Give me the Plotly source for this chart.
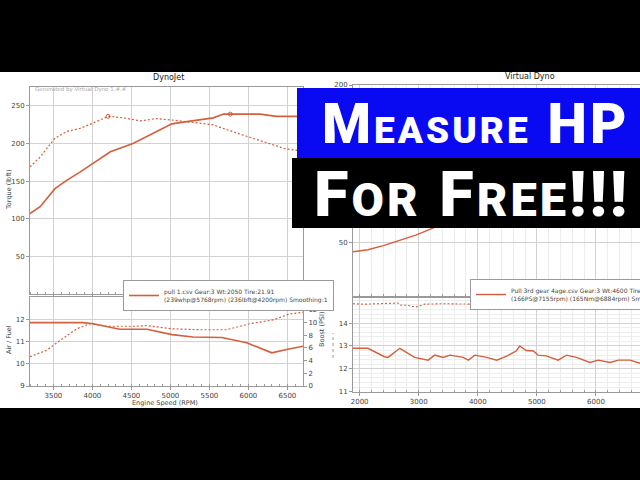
import plotly.graph_objects as go

# ---------------- data ----------------
# Left chart (DynoJet) - top panel
dj_rpm_power = [3200, 3330, 3520, 3670, 3840, 4010, 4230, 4520, 4820, 5020, 5210, 5550, 5680, 6150, 6360, 6700]
dj_power = [107, 116, 140, 151, 162, 174, 189, 200, 216, 226, 229, 234, 239, 239, 236, 236]
dj_rpm_torque = [3200, 3330, 3520, 3670, 3840, 4010, 4200, 4400, 4610, 4820, 5030, 5280, 5540, 5790, 6050, 6300, 6470, 6700]
dj_torque = [169, 182, 207, 216, 220, 227, 236, 234, 230, 233, 231, 228, 225, 216, 207, 198, 193, 190]
dj_peak_rpm = [5768, 4200]
dj_peak_val = [239, 236]

# Left chart - bottom panel
dj_rpm_afr = [3200, 3880, 4010, 4350, 4700, 5020, 5290, 5660, 5980, 6300, 6490, 6700]
dj_afr = [11.85, 11.85, 11.8, 11.55, 11.55, 11.31, 11.2, 11.18, 10.94, 10.49, 10.64, 10.79]
dj_rpm_boost = [3200, 3410, 3590, 3800, 3970, 4180, 4530, 4700, 5020, 5380, 5720, 6020, 6320, 6530, 6700]
dj_boost = [4.6, 5.6, 7.2, 9.0, 9.8, 9.4, 9.4, 9.5, 9.0, 8.85, 8.85, 9.8, 10.4, 11.35, 11.6]

# Right chart (Virtual Dyno) - top panel
vd_rpm_power = [1887, 2140, 2400, 2680, 2950, 3240, 3500]
vd_power = [41.7, 43.5, 47.5, 52.8, 57.5, 64, 72]

# Right chart - bottom panel
vd_rpm_afr = [1887, 2140, 2420, 2480, 2680, 2930, 3160, 3270, 3410, 3530, 3750, 3840, 3950, 4150, 4320,
              4490, 4650, 4710, 4820, 4940, 5020, 5160, 5360, 5500, 5670, 5900, 6040, 6240, 6380, 6580, 6746]
vd_afr = [12.9, 12.9, 12.53, 12.5, 12.9, 12.5, 12.38, 12.6, 12.5, 12.6, 12.5, 12.38, 12.6, 12.5, 12.38,
          12.56, 12.78, 13.0, 12.8, 12.78, 12.6, 12.57, 12.38, 12.6, 12.5, 12.28, 12.38, 12.28, 12.38, 12.38, 12.24]
vd_rpm_lambda = [1887, 2100, 2300, 2500, 2650, 2700, 2800, 2950, 3100, 3400, 3800, 4200, 4600, 5000, 5400, 5800, 6200, 6500, 6746]
vd_lambda = [14.85, 14.83, 14.85, 14.85, 14.88, 14.78, 14.78, 14.7, 14.83, 14.85, 14.83, 14.82, 14.85, 14.8, 14.78, 14.78, 14.75, 14.78, 14.82]

dj_x_ticks = [3500, 4000, 4500, 5000, 5500, 6000, 6500]
dj_power_ticks = [50, 100, 150, 200, 250]
dj_afr_ticks = [9, 10, 11, 12]
dj_boost_ticks = [0, 2, 4, 6, 8, 10, 12]
vd_x_ticks = [2000, 3000, 4000, 5000, 6000]
vd_power_ticks = [50, 100, 150, 200]
vd_afr_ticks = [11, 12, 13, 14]

legend_left = "pull 1.csv Gear:3 Wt:2050 Tire:21.91<br>(239whp@5768rpm) (236lbft@4200rpm) Smoothing:1"
legend_right = "Pull 3rd gear 4age.csv Gear:3 Wt:4600 Tire:22.2<br>(166PS@7155rpm) (165Nm@6884rpm) Smoothing:1"

# ---------------- styling ----------------
W, H = 640, 480
LINE = "#d45f3c"
GRID = "#d2d2d2"
FRAME = "#9a9a9a"
TXT = "#444444"
FONT = "DejaVu Sans"
BIG = "Roboto"
DOT = "2px,2px"


def px(x):
    return x / W


def py(y):
    return 1 - y / H


fig = go.Figure()

# Left top
fig.add_trace(go.Scatter(x=dj_rpm_power, y=dj_power, mode="lines", line=dict(color=LINE, width=1.6),
                         name=legend_left, xaxis="x", yaxis="y", legend="legend"))
fig.add_trace(go.Scatter(x=dj_rpm_torque, y=dj_torque, mode="lines", line=dict(color=LINE, width=1.2, dash=DOT),
                         showlegend=False, xaxis="x", yaxis="y"))
fig.add_trace(go.Scatter(x=dj_peak_rpm, y=dj_peak_val, mode="markers",
                         marker=dict(color=LINE, size=4, symbol="circle-open", line=dict(width=1)),
                         showlegend=False, xaxis="x", yaxis="y"))
# Left bottom
fig.add_trace(go.Scatter(x=dj_rpm_afr, y=dj_afr, mode="lines", line=dict(color=LINE, width=1.6),
                         showlegend=False, xaxis="x2", yaxis="y3"))
fig.add_trace(go.Scatter(x=dj_rpm_boost, y=dj_boost, mode="lines", line=dict(color=LINE, width=1.2, dash=DOT),
                         showlegend=False, xaxis="x2", yaxis="y4"))
# Right top
fig.add_trace(go.Scatter(x=vd_rpm_power, y=vd_power, mode="lines", line=dict(color=LINE, width=1.4),
                         name=legend_right, xaxis="x3", yaxis="y5", legend="legend2"))
# Right bottom
fig.add_trace(go.Scatter(x=vd_rpm_afr, y=vd_afr, mode="lines", line=dict(color=LINE, width=1.4),
                         showlegend=False, xaxis="x4", yaxis="y6"))
fig.add_trace(go.Scatter(x=vd_rpm_lambda, y=vd_lambda, mode="lines", line=dict(color=LINE, width=1.1, dash=DOT),
                         showlegend=False, xaxis="x4", yaxis="y6"))

tickfont = dict(family=FONT, size=7, color=TXT)
common = dict(showline=True, linecolor=FRAME, linewidth=1, mirror=True, gridcolor=GRID, gridwidth=1,
              tickfont=tickfont, zeroline=False, ticks="outside", ticklen=3, tickcolor=FRAME)
right_common = dict(showgrid=False, tickfont=tickfont, ticks="outside", ticklen=3, tickcolor=FRAME,
                    showline=False, zeroline=False)

xl_dom = [px(30), px(303)]
xr_dom = [px(353), 1.0]

fig.update_layout(
    width=W, height=H, margin=dict(l=0, r=0, t=0, b=0, autoexpand=False),
    paper_bgcolor="white", plot_bgcolor="white",
    font=dict(family=FONT, color=TXT),
    xaxis=dict(domain=xl_dom, range=[3200, 6700], anchor="y", tickvals=dj_x_ticks, showticklabels=False,
               minor=dict(dtick=100, ticks="inside", ticklen=2, tickcolor=FRAME), **common),
    yaxis=dict(domain=[py(294), py(87)], range=[0, 275], tickvals=dj_power_ticks, anchor="x", **common),
    yaxis2=dict(overlaying="y", side="right", range=[0, 275], tickvals=dj_power_ticks, anchor="x", **right_common),
    xaxis2=dict(domain=xl_dom, range=[3200, 6700], anchor="y3", tickvals=dj_x_ticks,
                minor=dict(dtick=100, ticks="inside", ticklen=2, tickcolor=FRAME), **common),
    yaxis3=dict(domain=[py(386), py(297)], range=[9, 13], tickvals=dj_afr_ticks, anchor="x2", **common),
    yaxis4=dict(overlaying="y3", side="right", range=[0, 14], tickvals=dj_boost_ticks, anchor="x2", **right_common),
    xaxis3=dict(domain=xr_dom, range=[1887, 6746], anchor="y5", tickvals=vd_x_ticks, showticklabels=False,
                minor=dict(dtick=200, showgrid=True, gridcolor="#ececec", ticks="inside", ticklen=2, tickcolor=FRAME),
                **common),
    yaxis5=dict(domain=[py(295.6), py(85)], range=[0, 200], tickvals=vd_power_ticks, anchor="x3", **common),
    xaxis4=dict(domain=xr_dom, range=[1887, 6746], anchor="y6", tickvals=vd_x_ticks,
                minor=dict(dtick=200, showgrid=True, gridcolor="#ececec", ticks="inside", ticklen=2, tickcolor=FRAME),
                **common),
    yaxis6=dict(domain=[py(391.7), py(298)], range=[11, 15.1], tickvals=vd_afr_ticks, anchor="x4",
                minor=dict(dtick=0.2, showgrid=True, gridcolor="#eeeeee"), **common),
    legend=dict(x=px(123), y=py(280), xanchor="left", yanchor="top", bgcolor="white",
                bordercolor=FRAME, borderwidth=1, font=dict(family=FONT, size=6, color=TXT),
                tracegroupgap=0, itemwidth=30),
    legend2=dict(x=px(470), y=py(279), xanchor="left", yanchor="top", bgcolor="white",
                 bordercolor=FRAME, borderwidth=1, font=dict(family=FONT, size=6, color=TXT),
                 tracegroupgap=0, itemwidth=30),
)

shapes = [
    # letterbox bars
    dict(type="rect", xref="paper", yref="paper", x0=0, x1=1, y0=py(72), y1=1,
         fillcolor="black", line=dict(width=0), layer="above"),
    dict(type="rect", xref="paper", yref="paper", x0=0, x1=1, y0=0, y1=py(408),
         fillcolor="black", line=dict(width=0), layer="above"),
    # overlay boxes
    dict(type="rect", xref="paper", yref="paper", x0=px(297), x1=1, y0=py(158), y1=py(88),
         fillcolor="#0a0af2", line=dict(width=0), layer="above"),
    dict(type="rect", xref="paper", yref="paper", x0=px(292), x1=1, y0=py(228), y1=py(158),
         fillcolor="black", line=dict(width=0), layer="above"),
    # dotted marker next to boost axis
    dict(type="line", xref="paper", yref="paper", x0=px(333), x1=px(333), y0=py(358), y1=py(333),
         line=dict(color="#999999", width=1, dash="dot"), layer="above"),
]
fig.update_layout(shapes=shapes)

ann = [
    dict(text="DynoJet", x=px(168), y=py(78), font=dict(size=8, color="#222")),
    dict(text="Virtual Dyno", x=px(530), y=py(76), font=dict(size=8, color="#222")),
    dict(text="Generated by Virtual Dyno 1.#.#", x=px(33), y=py(89), xanchor="left",
         font=dict(size=5.5, color="#aaaaaa")),
    dict(text="Torque (lbft)", x=px(9), y=py(190), textangle=-90, font=dict(size=6.5, color=TXT)),
    dict(text="Air / Fuel", x=px(9), y=py(340), textangle=-90, font=dict(size=6.5, color=TXT)),
    dict(text="Boost (PSI)", x=px(322), y=py(330), textangle=-90, font=dict(size=6.5, color=TXT)),
    dict(text="Engine Speed (RPM)", x=px(165), y=py(403), font=dict(size=6.5, color=TXT)),
    dict(text="<span style='letter-spacing:3px'>M<span style='font-size:37px'>EASURE</span> HP</span>",
         x=px(475), y=py(124),
         font=dict(family=BIG, size=56, color="white", weight=900)),
    dict(text="<span style='letter-spacing:3px'>F<span style='font-size:47px'>OR</span> "
              "F<span style='font-size:47px'>REE</span>!!!</span>",
         x=px(472), y=py(194),
         font=dict(family=BIG, size=63, color="white", weight=900)),
]
for a in ann:
    a.setdefault("xref", "paper")
    a.setdefault("yref", "paper")
    a.setdefault("showarrow", False)
    a.setdefault("xanchor", "center")
    a.setdefault("yanchor", "middle")
    a["font"].setdefault("family", FONT)
fig.update_layout(annotations=ann)

fig.write_html("out.html", config={"displayModeBar": False},
               post_script="document.body.style.margin='0';document.body.style.overflow='hidden';")
